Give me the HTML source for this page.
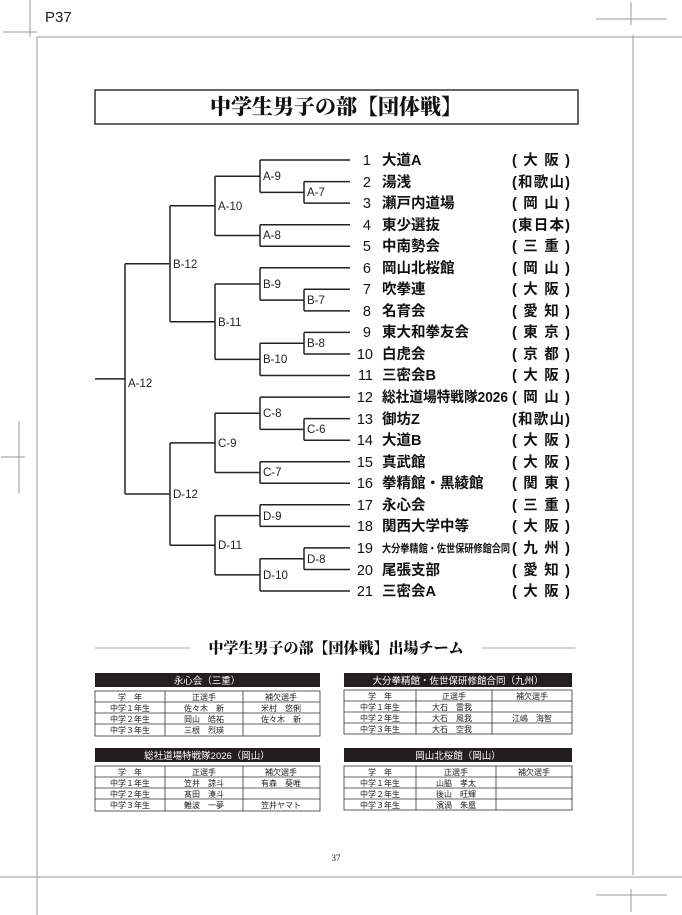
<!DOCTYPE html>
<html><head><meta charset="utf-8"><style>
html,body{margin:0;padding:0;background:#fff;}
svg{display:block;}
.t{font-family:"Liberation Sans","Noto Sans CJK JP",sans-serif;fill:#222;}
.s{font-family:"Liberation Serif","Noto Serif CJK JP",serif;font-weight:900;fill:#111;}
</style></head><body>
<svg width="682" height="915" viewBox="0 0 682 915" xmlns="http://www.w3.org/2000/svg">
<g stroke="#999" stroke-width="1" fill="none">
<path d="M37 37 H682 M37 37 V915 M633 35 V875 M0 877 H682 M3 32 H37 M30 0 V37 M596 19 H667 M631 2 V25 M596 895 H667 M631 889 V912 M1 457 H25 M19 421 V493"/>
</g>
<text x="45" y="22" class="t" font-size="15">P37</text>
<rect x="95" y="90" width="483" height="34" fill="none" stroke="#333" stroke-width="1.5"/>
<text x="336" y="114" class="s" font-size="21" text-anchor="middle">中学生男子の部【団体戦】</text>
<g stroke="#222" stroke-width="1.5" fill="none">
<path d="M260 160H350 M304 181.6H350 M304 203.1H350 M260 224.7H350 M260 246.2H350 M260 267.8H350 M304 289.3H350 M304 310.9H350 M304 332.4H350 M304 354H350 M260 375.5H350 M260 397.1H350 M304 418.6H350 M304 440.2H350 M260 461.7H350 M260 483.3H350 M260 504.8H350 M260 526.4H350 M304 547.9H350 M304 569.5H350 M260 591H350"/>
<path d="M304 181.6V203.1 M260 192.4H304 M260 160V192.4 M215 176.2H260 M260 224.7V246.2 M215 235.5H260 M215 176.2V235.5 M170 205.8H215
M304 289.3V310.9 M260 300.1H304 M260 267.8V300.1 M215 284H260 M304 332.4V354 M260 343.2H304 M260 343.2V375.5 M215 359.4H260 M215 284V359.4 M170 321.7H215 M170 205.8V321.7 M125 263.7H170
M304 418.6V440.2 M260 429.4H304 M260 397.1V429.4 M215 413.3H260 M260 461.7V483.3 M215 472.5H260 M215 413.3V472.5 M170 442.9H215
M260 504.8V526.4 M215 515.6H260 M304 547.9V569.5 M260 558.7H304 M260 558.7V591 M215 574.9H260 M215 515.6V574.9 M170 545.2H215 M170 442.9V545.2 M125 494H170 M125 263.7V494 M95 378.9H125"/>
</g>
<g class="t" font-size="11.5">
<text x="263" y="180">A-9</text><text x="307" y="196">A-7</text><text x="263" y="239">A-8</text><text x="218" y="210">A-10</text>
<text x="263" y="288">B-9</text><text x="307" y="304">B-7</text><text x="307" y="347">B-8</text><text x="263" y="363">B-10</text><text x="218" y="326">B-11</text><text x="173" y="268">B-12</text>
<text x="263" y="417">C-8</text><text x="307" y="433">C-6</text><text x="263" y="476">C-7</text><text x="218" y="447">C-9</text>
<text x="263" y="520">D-9</text><text x="307" y="563">D-8</text><text x="263" y="579">D-10</text><text x="218" y="549">D-11</text><text x="173" y="498">D-12</text>
<text x="128" y="387">A-12</text>
</g>
<g class="t" font-size="14.5" font-weight="bold" style="fill:#111">
<g text-anchor="end" font-weight="normal">
<text x="371" y="165">1</text><text x="371" y="187">2</text><text x="371" y="208">3</text><text x="371" y="230">4</text><text x="371" y="251">5</text><text x="371" y="273">6</text><text x="371" y="294">7</text><text x="371" y="316">8</text><text x="371" y="337">9</text><text x="373" y="359">10</text><text x="373" y="380">11</text><text x="373" y="402">12</text><text x="373" y="424">13</text><text x="373" y="445">14</text><text x="373" y="467">15</text><text x="373" y="488">16</text><text x="373" y="510">17</text><text x="373" y="531">18</text><text x="373" y="553">19</text><text x="373" y="575">20</text><text x="373" y="596">21</text>
</g>
<text x="382" y="165">大道A</text><text x="382" y="187">湯浅</text><text x="382" y="208">瀬戸内道場</text><text x="382" y="230">東少選抜</text><text x="382" y="251">中南勢会</text><text x="382" y="273">岡山北桜館</text><text x="382" y="294">吹拳連</text><text x="382" y="316">名育会</text><text x="382" y="337">東大和拳友会</text><text x="382" y="359">白虎会</text><text x="382" y="380">三密会B</text><text x="382" y="402" textLength="126" lengthAdjust="spacingAndGlyphs">総社道場特戦隊2026</text><text x="382" y="424">御坊Z</text><text x="382" y="445">大道B</text><text x="382" y="467">真武館</text><text x="382" y="488">拳精館・黒綾館</text><text x="382" y="510">永心会</text><text x="382" y="531">関西大学中等</text>
<text x="382" y="552" font-size="11" textLength="128" lengthAdjust="spacingAndGlyphs">大分拳精館・佐世保研修館合同</text>
<text x="382" y="575">尾張支部</text><text x="382" y="596">三密会A</text>
<g>
<text x="512" y="165" textLength="58">( 大 阪 )</text><text x="512" y="187" textLength="58">(和歌山)</text><text x="512" y="208" textLength="58">( 岡 山 )</text><text x="512" y="230" textLength="58">(東日本)</text><text x="512" y="251" textLength="58">( 三 重 )</text><text x="512" y="273" textLength="58">( 岡 山 )</text><text x="512" y="294" textLength="58">( 大 阪 )</text><text x="512" y="316" textLength="58">( 愛 知 )</text><text x="512" y="337" textLength="58">( 東 京 )</text><text x="512" y="359" textLength="58">( 京 都 )</text><text x="512" y="380" textLength="58">( 大 阪 )</text><text x="512" y="402" textLength="58">( 岡 山 )</text><text x="512" y="424" textLength="58">(和歌山)</text><text x="512" y="445" textLength="58">( 大 阪 )</text><text x="512" y="467" textLength="58">( 大 阪 )</text><text x="512" y="488" textLength="58">( 関 東 )</text><text x="512" y="510" textLength="58">( 三 重 )</text><text x="512" y="531" textLength="58">( 大 阪 )</text><text x="512" y="553" textLength="58">( 九 州 )</text><text x="512" y="575" textLength="58">( 愛 知 )</text><text x="512" y="596" textLength="58">( 大 阪 )</text>
</g>
</g>
<path d="M95 648H190 M482 648H575" stroke="#aaa" stroke-width="1"/>
<text x="336" y="653" class="s" font-size="15" text-anchor="middle">中学生男子の部【団体戦】出場チーム</text>

<g class="t" font-size="8">
<rect x="95" y="673" width="225" height="14" fill="#231f20"/>
<text x="207" y="684" text-anchor="middle" font-size="9.5" style="fill:#fff">永心会（三重）</text>
<g fill="none" stroke="#333" stroke-width="0.8"><rect x="95" y="691" width="225" height="45"/><path d="M95 702H320 M95 713H320 M95 724H320 M165 691V736 M243 691V736"/></g>
<text x="130" y="700" text-anchor="middle">学　年</text><text x="204" y="700" text-anchor="middle">正選手</text><text x="281" y="700" text-anchor="middle">補欠選手</text>
<text x="130" y="711" text-anchor="middle">中学１年生</text><text x="204" y="711" text-anchor="middle">佐々木　新</text><text x="281" y="711" text-anchor="middle">米村　悠俐</text>
<text x="130" y="722" text-anchor="middle">中学２年生</text><text x="204" y="722" text-anchor="middle">岡山　皓祐</text><text x="281" y="722" text-anchor="middle">佐々木　新</text>
<text x="130" y="733" text-anchor="middle">中学３年生</text><text x="204" y="733" text-anchor="middle">三根　烈瑛</text>
<rect x="95" y="748" width="225" height="14" fill="#231f20"/>
<text x="207" y="759" text-anchor="middle" font-size="9.5" style="fill:#fff">総社道場特戦隊2026（岡山）</text>
<g fill="none" stroke="#333" stroke-width="0.8"><rect x="95" y="766" width="225" height="45"/><path d="M95 777H320 M95 788H320 M95 799H320 M165 766V811 M243 766V811"/></g>
<text x="130" y="775" text-anchor="middle">学　年</text><text x="204" y="775" text-anchor="middle">正選手</text><text x="281" y="775" text-anchor="middle">補欠選手</text>
<text x="130" y="786" text-anchor="middle">中学１年生</text><text x="204" y="786" text-anchor="middle">笠井　諒斗</text><text x="281" y="786" text-anchor="middle">有森　葵唯</text>
<text x="130" y="797" text-anchor="middle">中学２年生</text><text x="204" y="797" text-anchor="middle">髙田　湊斗</text>
<text x="130" y="808" text-anchor="middle">中学３年生</text><text x="204" y="808" text-anchor="middle">難波　一夢</text><text x="281" y="808" text-anchor="middle">笠井ヤマト</text>
<rect x="344" y="673" width="228" height="14" fill="#231f20"/>
<text x="458" y="684" text-anchor="middle" font-size="9.5" style="fill:#fff">大分拳精館・佐世保研修館合同（九州）</text>
<g fill="none" stroke="#333" stroke-width="0.8"><rect x="344" y="690" width="228" height="44"/><path d="M344 701H572 M344 712H572 M344 723H572 M416 690V734 M492 690V734"/></g>
<text x="380" y="699" text-anchor="middle">学　年</text><text x="454" y="699" text-anchor="middle">正選手</text><text x="532" y="699" text-anchor="middle">補欠選手</text>
<text x="380" y="710" text-anchor="middle">中学１年生</text><text x="432" y="710">大石　雷我</text>
<text x="380" y="721" text-anchor="middle">中学２年生</text><text x="432" y="721">大石　風我</text><text x="532" y="721" text-anchor="middle">江嶋　海智</text>
<text x="380" y="732" text-anchor="middle">中学３年生</text><text x="432" y="732">大石　空我</text>
<rect x="344" y="748" width="228" height="14" fill="#231f20"/>
<text x="458" y="759" text-anchor="middle" font-size="9.5" style="fill:#fff">岡山北桜館（岡山）</text>
<g fill="none" stroke="#333" stroke-width="0.8"><rect x="344" y="766" width="228" height="44"/><path d="M344 777H572 M344 788H572 M344 799H572 M416 766V810 M496 766V810"/></g>
<text x="380" y="775" text-anchor="middle">学　年</text><text x="456" y="775" text-anchor="middle">正選手</text><text x="534" y="775" text-anchor="middle">補欠選手</text>
<text x="380" y="786" text-anchor="middle">中学１年生</text><text x="456" y="786" text-anchor="middle">山脇　孝太</text>
<text x="380" y="797" text-anchor="middle">中学２年生</text><text x="456" y="797" text-anchor="middle">後山　旺輝</text>
<text x="380" y="808" text-anchor="middle">中学３年生</text><text x="456" y="808" text-anchor="middle">濱渦　朱凰</text>
</g>
<text x="336" y="861" font-family="Liberation Serif,serif" font-size="9" text-anchor="middle" fill="#222">37</text>
</svg>
</body></html>
